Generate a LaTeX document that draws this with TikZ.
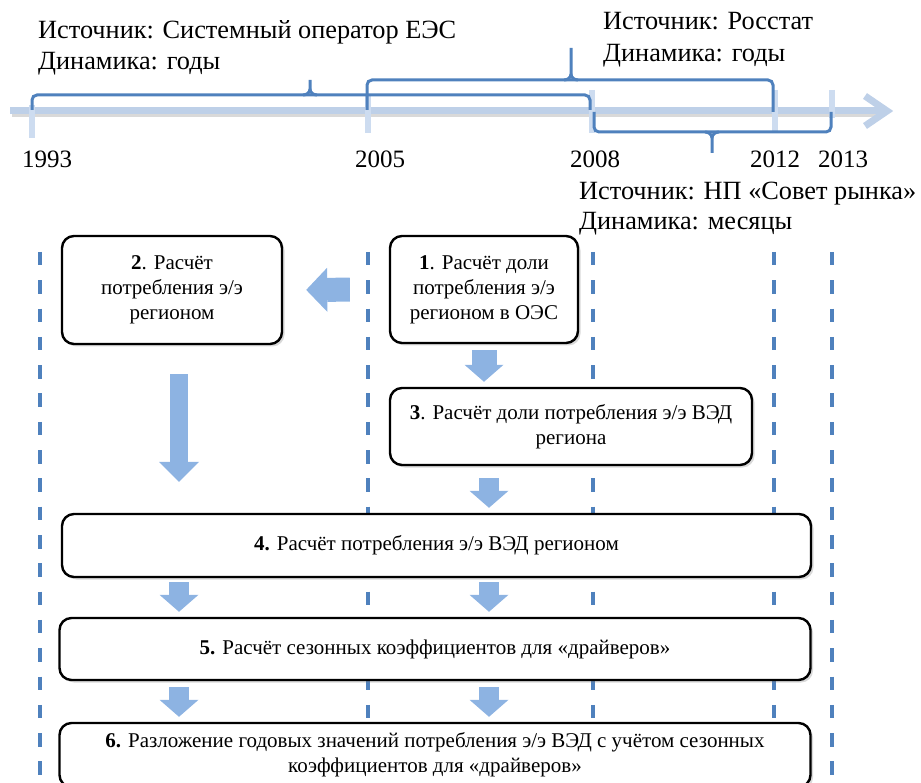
\documentclass[tikz,border=0pt]{standalone}
\usepackage{fontspec}
\setmainfont{Liberation Serif}
\usetikzlibrary{arrows.meta, positioning, calc, shadows}

\definecolor{axisblue}{RGB}{190, 208, 232}
\definecolor{tickblue}{RGB}{205, 220, 240}
\definecolor{spanblue}{RGB}{79, 129, 189}
\definecolor{flowblue}{RGB}{141, 179, 226}

\tikzset{
  stagebox/.style={draw=black, line width=2.4pt, fill=white, rounded corners=12pt,
    align=center, inner sep=0pt, font=\fontsize{21}{25}\selectfont,
    drop shadow={shadow xshift=2.5pt, shadow yshift=-2.5pt, opacity=0.3}},
  srclabel/.style={anchor=base west, inner sep=0pt, font=\fontsize{26.3}{30}\selectfont},
  yearlabel/.style={anchor=base west, inner sep=0pt, font=\fontsize{25}{30}\selectfont},
  yearline/.style={spanblue, line width=3.5pt, dash pattern=on 13.5pt off 14.8pt},
  yeartick/.style={tickblue, line width=6pt},
  spanbrace/.style={spanblue, line width=3pt, rounded corners=5pt},
  bracetip/.style={spanblue, line width=3pt},
  flowarrow/.style={flowblue, line width=20pt,
    -{Triangle[length=17pt 0 0, width=39pt 0 0, line width=0pt 0 0]}},
}

\begin{document}
\begin{tikzpicture}[x=1pt, y=-1pt]
  \clip (0,0) rectangle (921,783);

  % Year grid
  \foreach \x in {40, 368, 593, 774, 832}
    \draw[yearline] (\x,252) -- (\x,790);

  % Time axis
  \draw[black, opacity=0.15, line width=7pt] (12,114) -- (884,114);
  \draw[axisblue, line width=7pt] (10,111) -- (886,111);
  \draw[axisblue, line width=7pt] (865,96) -- (887,111) -- (865,126);
  \foreach \x/\a/\b in {32/105/138, 368/96/133, 592/90/133, 775/90/133, 832/90/118}
    \draw[yeartick] (\x,\a) -- (\x,\b);

  % Source periods
  \draw[spanbrace] (32,110) -- (32,95) -- (590,95) -- (590,110);
  \draw[bracetip] (303,95) to[out=0, in=-90] (310,89) -- (310,80);
  \draw[bracetip] (317,95) to[out=180, in=-90] (310,89);

  \draw[spanbrace] (367,110) -- (367,80) -- (773,80) -- (773,112);
  \draw[bracetip] (564,80) to[out=0, in=-90] (571,74) -- (571,48);
  \draw[bracetip] (578,80) to[out=180, in=-90] (571,74);

  \draw[spanbrace] (594,112) -- (594,132) -- (831,132) -- (831,112);
  \draw[bracetip] (705,132) to[out=0, in=90] (712,138) -- (712,153);
  \draw[bracetip] (719,132) to[out=180, in=90] (712,138);

  % Years
  \node[yearlabel] (y1993) at (22,168) {1993};
  \node[yearlabel] (y2005) at (355,168) {2005};
  \node[yearlabel] (y2008) at (570,168) {2008};
  \node[yearlabel] (y2012) at (750,168) {2012};
  \node[yearlabel] (y2013) at (818,168) {2013};

  % Sources
  \node[srclabel] (srcSO) at (38,39) {Источник: Системный оператор ЕЭС};
  \node[srclabel] (dynSO) at (38,70) {Динамика: годы};
  \node[srclabel] (srcRS) at (603,30) {Источник: Росстат};
  \node[srclabel] (dynRS) at (603,62) {Динамика: годы};
  \node[srclabel] (srcSR) at (579,200) {Источник: НП «Совет рынка»};
  \node[srclabel] (dynSR) at (579,230) {Динамика: месяцы};

  % Stages
  \node[stagebox, minimum width=188pt, minimum height=107pt] (stage1) at (484,289.5)
    {\textbf{1}. Расчёт доли\\потребления э/э\\регионом в ОЭС};
  \node[stagebox, minimum width=220pt, minimum height=108pt] (stage2) at (172,290)
    {\textbf{2}. Расчёт\\потребления э/э\\регионом};
  \node[stagebox, minimum width=362pt, minimum height=77pt] (stage3) at (571,426.5)
    {\textbf{3}. Расчёт доли потребления э/э ВЭД\\региона};
  \node[stagebox, minimum width=749pt, minimum height=63pt] (stage4) at (436.5,545.5)
    {\textbf{4.} Расчёт потребления э/э ВЭД регионом};
  \node[stagebox, minimum width=751pt, minimum height=62pt] (stage5) at (435,649)
    {\textbf{5.} Расчёт сезонных коэффициентов для «драйверов»};
  \node[stagebox, minimum width=751pt, minimum height=64pt] (stage6) at (435,755)
    {\textbf{6.} Разложение годовых значений потребления э/э ВЭД с учётом сезонных\\коэффициентов для «драйверов»};

  % Flow
  \coordinate (colL) at (179,0);
  \coordinate (colR) at (489,0);
  \draw[flowarrow, line width=24pt, -{Triangle[length=21pt 0 0, width=44pt 0 0, line width=0pt 0 0]},
    shorten <=39pt, shorten >=23pt] (stage1.west) -- (stage2.east);
  \draw[flowarrow, line width=25pt, shorten <=6pt, shorten >=5pt] (stage1.south) -- (stage1.south |- stage3.north);
  \draw[flowarrow, line width=18pt, -{Triangle[length=20pt 0 0, width=40pt 0 0, line width=0pt 0 0]},
    shorten <=29pt, shorten >=31pt] (stage2.south -| colL) -- (stage4.north -| colL);
  \draw[flowarrow, shorten <=12pt, shorten >=5pt] (stage3.south -| colR) -- (stage4.north -| colR);
  \foreach \col in {colL, colR} {
    \draw[flowarrow, shorten <=4pt, shorten >=5pt] (stage4.south -| \col) -- (stage5.north -| \col);
    \draw[flowarrow, shorten <=6pt, shorten >=5pt] (stage5.south -| \col) -- (stage6.north -| \col);
  }
\end{tikzpicture}
\end{document}
